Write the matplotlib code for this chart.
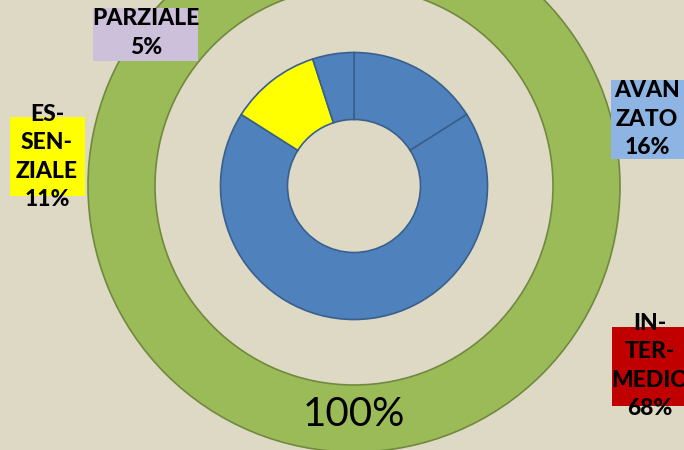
import matplotlib
matplotlib.use("Agg")
import matplotlib.pyplot as plt
from matplotlib.patches import Rectangle

# inner donut: livelli (clockwise from 12 o'clock)
levels = ["AVANZATO", "INTERMEDIO", "ESSENZIALE", "PARZIALE"]
shares = [16, 68, 11, 5]
level_colors = ["#4F81BD", "#4F81BD", "#FFFF00", "#4F81BD"]

# outer ring: totale
total_label = "100%"
total = [100]

# label boxes (text, box colour)
label_texts = ["AVAN\nZATO\n16%", "IN-\nTER-\nMEDIO\n68%", "ES-\nSEN-\nZIALE\n11%", "PARZIALE\n5%"]
box_colors = ["#8DB4E2", "#C00000", "#FFFF00", "#CCC0DA"]

W, H = 684, 450
bg = "#DDD9C4"

fig = plt.figure(figsize=(W / 100, H / 100), dpi=100, facecolor=bg)
ax = fig.add_axes([0, 0, 1, 1])
ax.set_facecolor(bg)

cx, cy = 354, H - 186

# outer green ring
ax.pie(total, radius=266, center=(cx, cy), colors=["#9BBB59"], startangle=90,
       counterclock=False, frame=True,
       wedgeprops=dict(width=67, edgecolor="#71893E", linewidth=1.2))

# inner donut
ax.pie(shares, radius=133.5, center=(cx, cy), colors=level_colors, startangle=90,
       counterclock=False, frame=True,
       wedgeprops=dict(width=67, edgecolor="#3A5F8C", linewidth=1.2))

ax.text(cx, H - 415, total_label, ha="center", va="center", fontsize=29,
        family="Lato", color="black")

# boxes in image pixels: x0, y0(top), x1, y1(bottom)
boxes = [(611, 80, 690, 159), (612, 327, 690, 406), (10, 117, 85, 196), (93, 8, 198, 61)]
text_pos = [(647, 119), (650, 366), (47, 157), (146, 33)]
for (x0, y0, x1, y1), col in zip(boxes, box_colors):
    ax.add_patch(Rectangle((x0, H - y1), x1 - x0, y1 - y0, facecolor=col,
                           edgecolor="none", zorder=3))
for (tx, ty), txt in zip(text_pos, label_texts):
    ax.text(tx, H - ty, txt, ha="center", va="center", fontsize=16.5,
            fontweight="black", family="Lato", linespacing=1.42, zorder=4)

ax.set_xlim(0, W)
ax.set_ylim(0, H)
ax.set_aspect("auto")
ax.axis("off")

fig.savefig("out.png", dpi=100, facecolor=bg)
